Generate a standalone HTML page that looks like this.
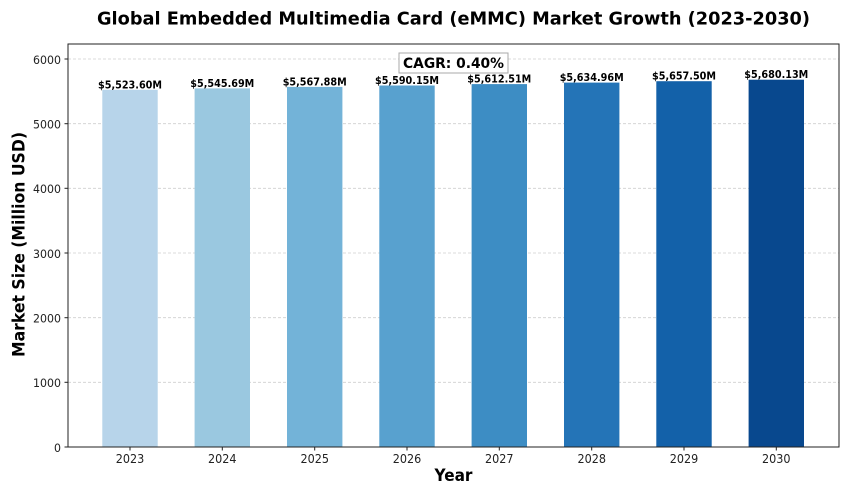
<!DOCTYPE html>
<html><head><meta charset="utf-8"><style>
html,body{margin:0;padding:0;background:#fff;}
svg{display:block;}
text{font-family:"DejaVu Sans","Liberation Sans",sans-serif;}
</style></head><body>
<svg width="850" height="495" viewBox="0 0 850 495" xmlns="http://www.w3.org/2000/svg">
<rect x="0" y="0" width="850" height="495" fill="#fff"/>
<!-- grid -->
<g stroke="#cfcfcf" stroke-width="0.8" stroke-dasharray="3,2">
<line x1="68" y1="382.3" x2="839" y2="382.3"/>
<line x1="68" y1="317.7" x2="839" y2="317.7"/>
<line x1="68" y1="253" x2="839" y2="253"/>
<line x1="68" y1="188.3" x2="839" y2="188.3"/>
<line x1="68" y1="123.7" x2="839" y2="123.7"/>
<line x1="68" y1="59" x2="839" y2="59"/>
</g>
<!-- bars -->
<rect x="102.3" y="89.8" width="55.4" height="357.2" fill="#b7d4ea"/>
<rect x="194.6" y="88.4" width="55.4" height="358.6" fill="#9ac8e0"/>
<rect x="287" y="86.9" width="55.4" height="360.1" fill="#73b3d8"/>
<rect x="379.3" y="85.5" width="55.4" height="361.5" fill="#58a1cf"/>
<rect x="471.6" y="84.1" width="55.4" height="362.9" fill="#3d8dc4"/>
<rect x="564" y="82.6" width="55.4" height="364.4" fill="#2474b7"/>
<rect x="656.3" y="81.2" width="55.4" height="365.8" fill="#1361a9"/>
<rect x="748.6" y="79.7" width="55.4" height="367.3" fill="#08488e"/>
<!-- value labels -->
<g font-weight="bold" font-size="10.5" fill="#000" text-anchor="middle">
<text x="130" y="88.5" textLength="64" lengthAdjust="spacingAndGlyphs">$5,523.60M</text>
<text x="222.3" y="87" textLength="64" lengthAdjust="spacingAndGlyphs">$5,545.69M</text>
<text x="314.7" y="85.5" textLength="64" lengthAdjust="spacingAndGlyphs">$5,567.88M</text>
<text x="407" y="84" textLength="64" lengthAdjust="spacingAndGlyphs">$5,590.15M</text>
<text x="499.3" y="82.6" textLength="64" lengthAdjust="spacingAndGlyphs">$5,612.51M</text>
<text x="591.7" y="81.1" textLength="64" lengthAdjust="spacingAndGlyphs">$5,634.96M</text>
<text x="684" y="79.7" textLength="64" lengthAdjust="spacingAndGlyphs">$5,657.50M</text>
<text x="776.3" y="78.2" textLength="64" lengthAdjust="spacingAndGlyphs">$5,680.13M</text>
</g>
<!-- CAGR box -->
<rect x="399" y="53" width="109" height="20" fill="#fff" stroke="#a8a8a8" stroke-width="1"/>
<text x="453.5" y="68" font-weight="bold" font-size="14.5" text-anchor="middle" textLength="101" lengthAdjust="spacingAndGlyphs">CAGR: 0.40%</text>
<!-- spines -->
<rect x="68" y="44" width="771" height="403" fill="none" stroke="#222" stroke-width="1"/>
<!-- ticks -->
<g stroke="#222" stroke-width="1">
<line x1="64.5" y1="447" x2="68" y2="447"/>
<line x1="64.5" y1="382.3" x2="68" y2="382.3"/>
<line x1="64.5" y1="317.7" x2="68" y2="317.7"/>
<line x1="64.5" y1="253" x2="68" y2="253"/>
<line x1="64.5" y1="188.3" x2="68" y2="188.3"/>
<line x1="64.5" y1="123.7" x2="68" y2="123.7"/>
<line x1="64.5" y1="59" x2="68" y2="59"/>
<line x1="130" y1="447" x2="130" y2="450.5"/>
<line x1="222.3" y1="447" x2="222.3" y2="450.5"/>
<line x1="314.7" y1="447" x2="314.7" y2="450.5"/>
<line x1="407" y1="447" x2="407" y2="450.5"/>
<line x1="499.3" y1="447" x2="499.3" y2="450.5"/>
<line x1="591.7" y1="447" x2="591.7" y2="450.5"/>
<line x1="684" y1="447" x2="684" y2="450.5"/>
<line x1="776.3" y1="447" x2="776.3" y2="450.5"/>
</g>
<g font-size="11.5" fill="#222" text-anchor="end">
<text x="61" y="451.8" textLength="7" lengthAdjust="spacingAndGlyphs">0</text>
<text x="61" y="387.1" textLength="28" lengthAdjust="spacingAndGlyphs">1000</text>
<text x="61" y="322.5" textLength="28" lengthAdjust="spacingAndGlyphs">2000</text>
<text x="61" y="257.8" textLength="28" lengthAdjust="spacingAndGlyphs">3000</text>
<text x="61" y="193.1" textLength="28" lengthAdjust="spacingAndGlyphs">4000</text>
<text x="61" y="128.5" textLength="28" lengthAdjust="spacingAndGlyphs">5000</text>
<text x="61" y="63.8" textLength="28" lengthAdjust="spacingAndGlyphs">6000</text>
</g>
<g font-size="12.5" fill="#222" text-anchor="middle">
<text x="130" y="463" textLength="28.5" lengthAdjust="spacingAndGlyphs">2023</text>
<text x="222.3" y="463" textLength="28.5" lengthAdjust="spacingAndGlyphs">2024</text>
<text x="314.7" y="463" textLength="28.5" lengthAdjust="spacingAndGlyphs">2025</text>
<text x="407" y="463" textLength="28.5" lengthAdjust="spacingAndGlyphs">2026</text>
<text x="499.3" y="463" textLength="28.5" lengthAdjust="spacingAndGlyphs">2027</text>
<text x="591.7" y="463" textLength="28.5" lengthAdjust="spacingAndGlyphs">2028</text>
<text x="684" y="463" textLength="28.5" lengthAdjust="spacingAndGlyphs">2029</text>
<text x="776.3" y="463" textLength="28.5" lengthAdjust="spacingAndGlyphs">2030</text>
</g>
<!-- axis labels -->
<text x="453.5" y="481" font-weight="bold" font-size="16.5" text-anchor="middle" textLength="38" lengthAdjust="spacingAndGlyphs">Year</text>
<text transform="translate(24.5,244.5) rotate(-90)" x="0" y="0" font-weight="bold" font-size="16.5" text-anchor="middle" textLength="225" lengthAdjust="spacingAndGlyphs">Market Size (Million USD)</text>
<!-- title -->
<text x="453.5" y="24.3" font-weight="bold" font-size="18" text-anchor="middle" textLength="713" lengthAdjust="spacingAndGlyphs">Global Embedded Multimedia Card (eMMC) Market Growth (2023-2030)</text>
</svg>
</body></html>
